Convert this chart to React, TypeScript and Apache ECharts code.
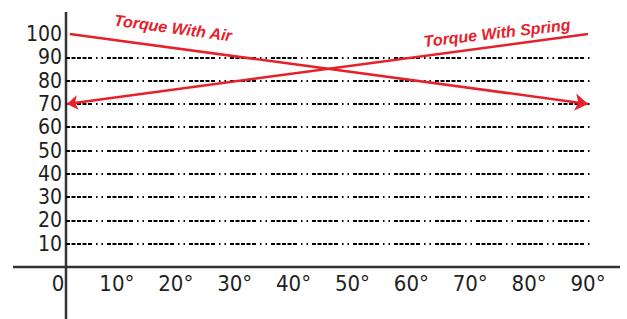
import React, { useEffect, useRef } from "react";
import * as echarts from "echarts";

const xTicks = [0, 10, 20, 30, 40, 50, 60, 70, 80, 90];
const yTicks = [0, 10, 20, 30, 40, 50, 60, 70, 80, 90, 100];
const airX = [2, 90];
const airY = [100, 70];
const springX = [1.5, 90];
const springY = [70, 100];
const airLabel = "Torque With Air";
const springLabel = "Torque With Spring";

const RED = "#e6212a";
const INK = "#231f20";
const LABEL_FONT = "'DejaVu Sans Condensed', 'Liberation Sans Narrow', sans-serif";

export default function App() {
  const ref = useRef<HTMLDivElement>(null);
  useEffect(() => {
    if (!ref.current) return;
    const chart = echarts.init(ref.current, undefined, { renderer: "svg" });
    const dash = [4, 1.5, 4, 1.5, 4, 1.5, 4, 1.5, 4, 4, 1.5, 4, 1.5, 4];
    chart.setOption({
      animation: false,
      grid: [
        { left: 66, right: 37, top: 34, bottom: 52 },
        { left: 58, right: 39, top: 34, bottom: 52 },
      ],
      xAxis: [
        { gridIndex: 0, type: "value", min: 0, max: 1, show: false },
        {
          gridIndex: 1,
          type: "value",
          min: xTicks[0],
          max: xTicks[xTicks.length - 1],
          interval: 10,
          axisLine: { show: false },
          axisTick: { show: false },
          splitLine: { show: false },
          axisLabel: {
            margin: 5,
            color: INK,
            fontSize: 22,
            lineHeight: 22,
            fontFamily: LABEL_FONT,
            showMinLabel: true,
            showMaxLabel: true,
            formatter: (v: number) => (v === 0 ? "0" : v + "°"),
          },
        },
      ],
      yAxis: [
        {
          gridIndex: 0,
          type: "value",
          min: yTicks[0],
          max: yTicks[yTicks.length - 1],
          interval: 10,
          axisLine: { show: false },
          axisTick: { show: false },
          axisLabel: {
            margin: 4,
            color: INK,
            fontSize: 21,
            lineHeight: 20,
            fontFamily: LABEL_FONT,
            showMaxLabel: true,
            hideOverlap: false,
            formatter: (v: number) => (v === 0 ? "" : String(v)),
          },
          splitLine: {
            show: true,
            showMinLine: false,
            showMaxLine: false,
            lineStyle: { color: "#000", width: 1.8, type: dash },
          },
        },
        { gridIndex: 1, type: "value", min: 0, max: 100, show: false },
      ],
      series: [
        {
          name: airLabel,
          type: "lines",
          coordinateSystem: "cartesian2d",
          xAxisIndex: 1,
          yAxisIndex: 1,
          symbol: ["none", "arrow"],
          symbolSize: [11, 13],
          lineStyle: { color: RED, width: 2.5, opacity: 1 },
          itemStyle: { color: RED },
          data: [{ coords: [[airX[0], airY[0]], [airX[1], airY[1]]] }],
        },
        {
          name: springLabel,
          type: "lines",
          coordinateSystem: "cartesian2d",
          xAxisIndex: 1,
          yAxisIndex: 1,
          symbol: ["arrow", "none"],
          symbolSize: [11, 13],
          lineStyle: { color: RED, width: 2.5, opacity: 1 },
          itemStyle: { color: RED },
          data: [{ coords: [[springX[0], springY[0]], [springX[1], springY[1]]] }],
        },
      ],
      graphic: [
        {
          type: "line",
          shape: { x1: 66, y1: 12, x2: 66, y2: 319 },
          style: { stroke: "#333", lineWidth: 2.5 },
        },
        {
          type: "line",
          shape: { x1: 13, y1: 267, x2: 620, y2: 267 },
          style: { stroke: "#333", lineWidth: 2.5 },
        },
        {
          type: "text",
          x: 173,
          y: 28,
          rotation: -0.135,
          style: {
            text: airLabel,
            fill: RED,
            font: "italic bold 16px 'Liberation Sans', sans-serif",
            align: "center",
            verticalAlign: "middle",
          },
        },
        {
          type: "text",
          x: 497,
          y: 33,
          rotation: 0.115,
          style: {
            text: springLabel,
            fill: RED,
            font: "italic bold 16px 'Liberation Sans', sans-serif",
            align: "center",
            verticalAlign: "middle",
          },
        },
      ],
    });
    return () => chart.dispose();
  }, []);
  return <div ref={ref} style={{ width: 627, height: 319, position: "absolute", left: 0, top: 0 }} />;
}
